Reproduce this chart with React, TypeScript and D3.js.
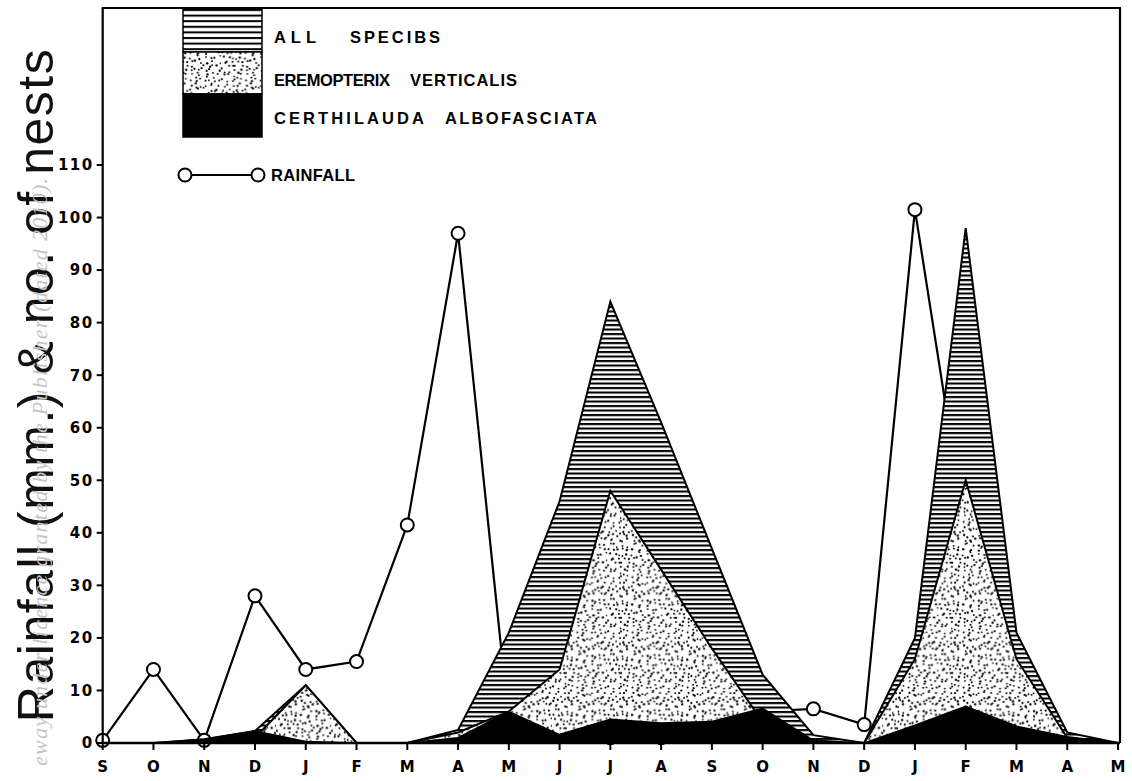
import React from 'react';
import * as d3 from 'd3';

const months = ['S','O','N','D','J','F','M','A','M','J','J','A','S','O','N','D','J','F','M','A','M'];
const rainfall: (number | null)[] = [0.5, 14, 0.5, 28, 14, 15.5, 41.5, 97, 4, 2, 1, 1, 2, 6, 6.5, 3.5, 101.5, 40, null, null, null];
const allSpecies = [0, 0, 0.7, 2.3, 11, 0, 0, 2.5, 21, 46, 84, 61, 37, 13, 1.5, 0, 20, 98, 21, 2, 0];
const eremopterix = [0, 0, 0, 1, 11, 0, 0, 2, 6, 14, 48, 33, 18, 4, 0, 0, 16, 50, 16, 1, 0];
const certhilauda = [0, 0, 0.7, 2.3, 0.3, 0, 0, 1, 6, 1.6, 4.5, 3.8, 4.1, 6.6, 0.5, 0, 3.4, 7, 3.2, 1.2, 0];
const yTicks = [0, 10, 20, 30, 40, 50, 60, 70, 80, 90, 100, 110];
const legendLabels = ['ALL SPECIBS', 'EREMOPTERIX VERTICALIS', 'CERTHILAUDA ALBOFASCIATA'];
const rainLabel = 'RAINFALL';
const yTitle = 'Rainfall (mm.) & no. of nests';
const watermark = 'eway under licence granted by the Publisher (dated 2010).';

const W = 1132, H = 781;
const X0 = 102.7, X1 = 1118, Y0 = 743, Y110 = 165, TOP = 8, RIGHT = 1120;

// word placement of the hand-lettered legend (start x, width) per label
const legendWordBoxes = [
  [[274, 42], [350, 90]],
  [[274, 116], [410, 107]],
  [[274, 150], [445, 152]],
];

function stippleDots() {
  // deterministic jittered grid texture for the dotted fill
  let s = 12345;
  const rnd = () => { s = (s * 1103515245 + 12345) % 2147483648; return s / 2147483648; };
  const pts: { x: number; y: number; r: number }[] = [];
  const cell = 4.6, n = 12;
  for (let i = 0; i < n; i++) for (let j = 0; j < n; j++) {
    pts.push({ x: i * cell + rnd() * cell, y: j * cell + rnd() * cell, r: 0.85 + rnd() * 0.35 });
  }
  return { pts, size: cell * n };
}

export default function App() {
  const x = d3.scaleLinear().domain([0, months.length - 1]).range([X0, X1]);
  const y = d3.scaleLinear().domain([0, 110]).range([Y0, Y110]);
  const area = d3.area<number>().x((_, i) => x(i)).y0(y(0)).y1(d => y(d));
  const rainLine = d3.line<number | null>().defined(d => d !== null).x((_, i) => x(i)).y(d => y(d as number));
  const dots = stippleDots();
  const font = '"DejaVu Sans", "Liberation Sans", sans-serif';
  const legendFont = '"Liberation Sans", Arial, sans-serif';

  const legendRows = [
    { y0: 9, y1: 52, fill: 'url(#hatchL)' },
    { y0: 52, y1: 94, fill: 'url(#dots)' },
    { y0: 94, y1: 137, fill: '#000' },
  ];
  const legendTextY = [37, 80, 118];

  return (
    <svg width={W} height={H} style={{ position: 'absolute', left: 0, top: 0, background: '#fff' }}>
      <defs>
        <pattern id="hatch" patternUnits="userSpaceOnUse" width={10} height={4.5}>
          <rect width={10} height={4.5} fill="#fff" />
          <rect y={0} width={10} height={2.1} fill="#000" />
        </pattern>
        <pattern id="hatchL" patternUnits="userSpaceOnUse" width={10} height={5.6} y={9}>
          <rect width={10} height={5.6} fill="#fff" />
          <rect y={0} width={10} height={2} fill="#000" />
        </pattern>
        <pattern id="dots" patternUnits="userSpaceOnUse" width={dots.size} height={dots.size}>
          <rect width={dots.size} height={dots.size} fill="#fff" />
          {dots.pts.map((p, i) => <circle key={i} cx={p.x} cy={p.y} r={p.r} fill="#000" />)}
        </pattern>
      </defs>
      <rect width={W} height={H} fill="#fff" />

      {/* y title */}
      <text transform={`translate(53,385) rotate(-90)`} textAnchor="middle" fontFamily='"Liberation Sans", sans-serif'
        fontSize={50} letterSpacing={1.5} fill="#111">{yTitle}</text>

      {/* watermark */}
      <text transform={`translate(47,178) rotate(-90)`} textAnchor="end" fontFamily='"Liberation Serif", serif'
        fontStyle="italic" fontSize={22} textLength={588} lengthAdjust="spacing" fill="#c4c4c4">{watermark}</text>

      {/* rainfall line (under the nest areas) */}
      <path d={rainLine(rainfall) || ''} fill="none" stroke="#000" strokeWidth={2.2} />
      {rainfall.map((d, i) => d === null ? null : (
        <circle key={i} cx={x(i)} cy={y(d)} r={6.5} fill="#fff" stroke="#000" strokeWidth={2} />
      ))}

      {/* nest areas */}
      <path d={area(allSpecies) || ''} fill="url(#hatch)" stroke="#000" strokeWidth={2} strokeLinejoin="miter" />
      <path d={area(eremopterix) || ''} fill="url(#dots)" stroke="#000" strokeWidth={2} strokeLinejoin="miter" />
      <path d={area(certhilauda) || ''} fill="#000" stroke="#000" strokeWidth={1.5} />

      {/* frame and axes */}
      <line x1={X0} x2={X0} y1={TOP} y2={Y0} stroke="#000" strokeWidth={2.2} />
      <line x1={X0 - 1} x2={RIGHT + 1} y1={TOP} y2={TOP} stroke="#000" strokeWidth={2.2} />
      <line x1={RIGHT} x2={RIGHT} y1={TOP} y2={Y0} stroke="#000" strokeWidth={2.2} />
      <line x1={X0} x2={RIGHT} y1={Y0} y2={Y0} stroke="#000" strokeWidth={2.5} />
      {yTicks.map(t => (
        <g key={t}>
          <line x1={X0 - 6} x2={X0} y1={y(t)} y2={y(t)} stroke="#000" strokeWidth={2} />
          <text x={X0 - 9} y={y(t)} dy="0.36em" textAnchor="end" fontFamily={font} fontWeight="bold"
            fontSize={15} letterSpacing={1.5} fill="#000">{t}</text>
        </g>
      ))}
      {months.map((m, i) => (
        <g key={i}>
          <line x1={x(i)} x2={x(i)} y1={Y0} y2={Y0 + 7} stroke="#000" strokeWidth={2} />
          <text x={x(i)} y={767} dy="0.36em" textAnchor="middle" fontFamily={font} fontWeight="bold"
            fontSize={15} fill="#000">{m}</text>
        </g>
      ))}

      {/* legend */}
      {legendRows.map((r, i) => (
        <rect key={i} x={183} y={r.y0} width={79} height={r.y1 - r.y0} fill={r.fill} stroke="#000" strokeWidth={1.5} />
      ))}
      {legendLabels.map((t, i) => t.split(' ').map((w, j) => (
        <text key={t + j} x={legendWordBoxes[i][j][0]} y={legendTextY[i]} dy="0.36em" fontFamily={legendFont}
          fontWeight="bold" fontSize={16.5} textLength={legendWordBoxes[i][j][1]} lengthAdjust="spacing"
          fill="#000">{w}</text>
      )))}
      <line x1={185} x2={258} y1={175} y2={175} stroke="#000" strokeWidth={2} />
      <circle cx={185} cy={175} r={6.5} fill="#fff" stroke="#000" strokeWidth={2} />
      <circle cx={258} cy={175} r={6.5} fill="#fff" stroke="#000" strokeWidth={2} />
      <text x={271} y={175} dy="0.36em" fontFamily={legendFont} fontWeight="bold" fontSize={16.5}
        textLength={84} lengthAdjust="spacing" fill="#000">{rainLabel}</text>
    </svg>
  );
}
